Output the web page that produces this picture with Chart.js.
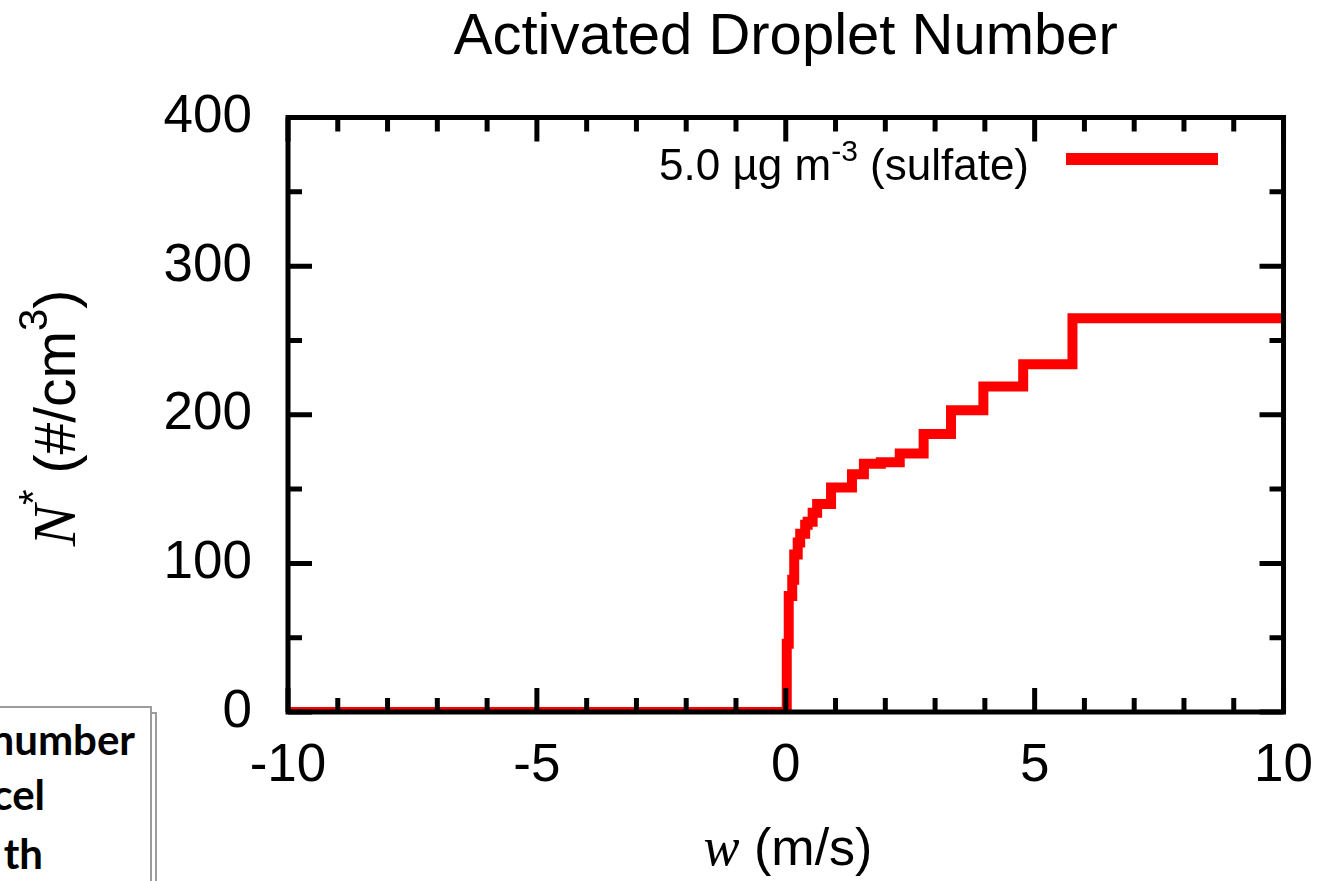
<!DOCTYPE html>
<html>
<head>
<meta charset="utf-8">
<title>Activated Droplet Number</title>
<script src="https://cdn.jsdelivr.net/npm/chart.js@4.4.0/dist/chart.umd.min.js"></script>
<style>
  html, body { margin: 0; padding: 0; background: #fff; overflow: hidden; }
  #wrap { position: relative; width: 1336px; height: 881px; overflow: hidden; }
  #chart { position: absolute; left: 0; top: 0; }
  .nb { position: absolute; box-sizing: border-box; border: 2px solid #9c9c9c; }
  .nt { position: absolute; white-space: nowrap; text-align: right; font: bold 42px Lato, "Liberation Sans", sans-serif; line-height: 42px; color: #000; }
</style>
</head>
<body>
<div id="wrap">
  <div class="nb" style="left:-20px; top:712px; width:177px; height:200px;"></div>
  <div class="nb" style="left:-20px; top:706px; width:172px; height:200px; background:#fff;"></div>
  <div class="nt" style="right:1201px; top:718px;">number</div>
  <div class="nt" style="right:1291px; top:773px;">cel</div>
  <div class="nt" style="right:1293px; top:832px;">th</div>
  <canvas id="chart" width="1336" height="881"></canvas>
</div>
<script>
const chartTitle = 'Activated Droplet Number';
const seriesLabel = ['5.0 µg m', '-3', ' (sulfate)'];
const xTitle = ['w', ' (m/s)'];
const yTitle = ['N', '*', ' (#/cm', '3', ')'];

// vertical velocity (m/s) where each step begins, and activated droplet number after it
const wSteps = [-10, 0.02, 0.06, 0.13, 0.17, 0.24, 0.29, 0.39, 0.44, 0.54, 0.63, 0.91, 1.33, 1.57, 1.91, 2.29, 2.77, 3.32, 3.97, 4.77, 5.76, 10];
const nSteps = [0, 46, 78, 89, 106, 114, 120, 126, 128, 134, 140, 151, 160, 167, 168, 174, 187, 203, 219, 234, 265, 265];

const xTickValues = [-10, -5, 0, 5, 10];
const yTickValues = [0, 100, 200, 300, 400];
const xMinorStep = 1;
const yMinorStep = 50;

const red = '#ff0000';
const sans = '"Liberation Sans", Arial, sans-serif';
const serif = '"Liberation Serif", "Times New Roman", serif';

function drawRich(ctx, parts, x, y, align) {
  let total = 0;
  const widths = parts.map(p => {
    ctx.font = p.font;
    const w = ctx.measureText(p.text).width;
    total += w;
    return w;
  });
  let cx = align === 'right' ? x - total : align === 'center' ? x - total / 2 : x;
  ctx.textAlign = 'left';
  ctx.textBaseline = 'alphabetic';
  parts.forEach((p, i) => {
    ctx.font = p.font;
    ctx.fillText(p.text, cx, y + (p.dy || 0));
    cx += widths[i];
  });
}

const framePlugin = {
  id: 'frame',
  afterDatasetsDraw(chart) {
    const { ctx, chartArea: a, scales: { x, y } } = chart;
    ctx.save();
    ctx.strokeStyle = '#000';
    ctx.fillStyle = '#000';
    ctx.lineCap = 'butt';
    ctx.lineWidth = 5;

    // inward ticks on all four sides
    ctx.beginPath();
    for (let v = x.min; v <= x.max; v += xMinorStep) {
      const px = x.getPixelForValue(v);
      const len = xTickValues.includes(v) ? 24 : 14;
      ctx.moveTo(px, a.bottom); ctx.lineTo(px, a.bottom - len);
      ctx.moveTo(px, a.top); ctx.lineTo(px, a.top + len);
    }
    for (let v = y.min; v <= y.max; v += yMinorStep) {
      const py = y.getPixelForValue(v);
      const len = yTickValues.includes(v) ? 24 : 14;
      ctx.moveTo(a.left, py); ctx.lineTo(a.left + len, py);
      ctx.moveTo(a.right, py); ctx.lineTo(a.right - len, py);
    }
    ctx.stroke();
    ctx.strokeRect(a.left, a.top, a.right - a.left, a.bottom - a.top);

    // title, centred over the plot box
    drawRich(ctx, [{ text: chartTitle, font: '58px ' + sans }], (a.left + a.right) / 2, 54, 'center');

    // key, top right
    const ds = chart.data.datasets[0];
    drawRich(ctx, [
      { text: ds.label[0], font: '44px ' + sans },
      { text: ds.label[1], font: '30px ' + sans, dy: -19 },
      { text: ds.label[2], font: '44px ' + sans }
    ], 1029, 180, 'right');
    ctx.strokeStyle = ds.borderColor;
    ctx.lineWidth = 12;
    ctx.beginPath();
    ctx.moveTo(1066, 159); ctx.lineTo(1218, 159);
    ctx.stroke();

    // axis titles
    drawRich(ctx, [
      { text: xTitle[0], font: 'italic 54px ' + serif },
      { text: xTitle[1], font: '52px ' + sans }
    ], 788, 865, 'center');

    ctx.translate(75, 418);
    ctx.rotate(-Math.PI / 2);
    drawRich(ctx, [
      { text: yTitle[0], font: 'italic 62px ' + serif },
      { text: yTitle[1], font: '40px ' + sans, dy: -28 },
      { text: yTitle[2], font: '57px ' + sans },
      { text: yTitle[3], font: '40px ' + sans, dy: -28 },
      { text: yTitle[4], font: '57px ' + sans }
    ], 0, 0, 'center');
    ctx.restore();
  }
};

const points = wSteps.map((w, i) => ({ x: w, y: nSteps[i] }));

const ctxChart = document.getElementById('chart').getContext('2d');
const chart = new Chart(ctxChart, {
  type: 'line',
  data: {
    datasets: [{
      label: seriesLabel,
      data: points,
      borderColor: red,
      backgroundColor: red,
      borderWidth: 10,
      pointRadius: 0,
      stepped: 'before',
      fill: false,
      tension: 0
    }]
  },
  options: {
    responsive: false,
    animation: false,
    devicePixelRatio: 1,
    layout: { padding: { left: 0, right: 48, top: 117.5, bottom: 0 } },
    plugins: {
      legend: { display: false },
      tooltip: { enabled: false },
      title: { display: false }
    },
    scales: {
      x: {
        type: 'linear',
        min: -10,
        max: 10,
        grid: { display: false, drawTicks: false },
        border: { display: false },
        afterBuildTicks: s => { s.ticks = xTickValues.map(v => ({ value: v })); },
        afterFit: s => { s.height = 169; },
        ticks: {
          color: '#000',
          font: { family: 'Liberation Sans', size: 53 },
          padding: 23,
          maxRotation: 0,
          autoSkip: false,
          callback: v => String(v)
        }
      },
      y: {
        type: 'linear',
        min: 0,
        max: 400,
        grid: { display: false, drawTicks: false },
        border: { display: false },
        afterBuildTicks: s => { s.ticks = yTickValues.map(v => ({ value: v })); },
        afterFit: s => { s.width = 288; },
        ticks: {
          color: '#000',
          font: { family: 'Liberation Sans', size: 53 },
          padding: 36,
          autoSkip: false,
          callback: v => String(v)
        }
      }
    }
  },
  plugins: [framePlugin]
});
</script>
</body>
</html>
